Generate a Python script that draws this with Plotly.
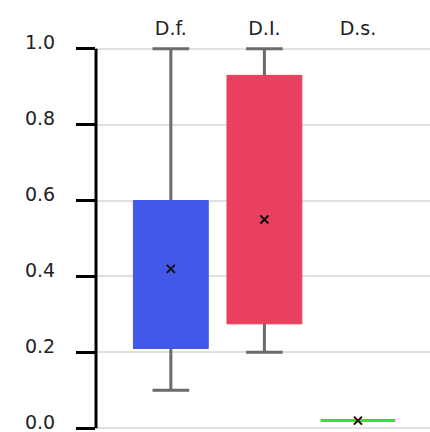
import plotly.graph_objects as go

categories = ["D.f.", "D.I.", "D.s."]
mins = [0.10, 0.20, 0.02]
q1s = [0.21, 0.275, 0.02]
q3s = [0.60, 0.93, 0.02]
maxs = [1.00, 1.00, 0.02]
means = [0.42, 0.55, 0.02]
colors = ["#4158e8", "#e8405e", "#2de82d"]
y_ticks = [0.0, 0.2, 0.4, 0.6, 0.8, 1.0]

FONT = "DejaVu Sans"
fig = go.Figure()

# whiskers (gray), drawn under the coloured boxes
mids = [(a + b) / 2 for a, b in zip(q1s, q3s)]
fig.add_trace(go.Box(
    x=categories[:2], q1=mids[:2], median=mids[:2], q3=mids[:2],
    lowerfence=mins[:2], upperfence=maxs[:2],
    line=dict(color="#6b6b6b", width=3), fillcolor="rgba(0,0,0,0)",
    width=0.8, whiskerwidth=0.49, boxpoints=False, hoverinfo="skip",
    showlegend=False,
))

# coloured boxes (q1..q3)
for c, a, b, col in zip(categories, q1s, q3s, colors):
    fig.add_trace(go.Box(
        x=[c], q1=[a], median=[a], q3=[b], lowerfence=[a], upperfence=[b],
        line=dict(color=col, width=3 if a == b else 1), fillcolor=col,
        width=0.8, whiskerwidth=0, boxpoints=False, showlegend=False,
    ))

# means
fig.add_trace(go.Scatter(
    x=categories, y=means, mode="markers",
    marker=dict(symbol="x-thin", size=8, line=dict(color="#111111", width=2)),
    showlegend=False,
))

fig.update_layout(
    width=430, height=432,
    margin=dict(l=96, r=0, t=45, b=0),
    plot_bgcolor="white", paper_bgcolor="white",
    boxmode="overlay",
    font=dict(family=FONT, size=19, color="#222222"),
)
fig.update_xaxes(
    type="category", side="top", range=[-0.8, 2.77], automargin=False,
    showline=False, showgrid=False, ticks="", ticklabelstandoff=5,
    tickfont=dict(family=FONT, size=19, color="#222222"),
)
fig.update_yaxes(
    range=[-0.01, 1.01], tickvals=y_ticks, ticktext=[f"{v:.1f}" for v in y_ticks],
    automargin=False, ticklabeloverflow="allow",
    showline=False,
    ticks="outside", ticklen=19, tickwidth=3, tickcolor="black",
    showgrid=True, gridcolor="#e0e0e0", gridwidth=2, zeroline=False,
    ticklabelstandoff=17, ticklabelshift=-6,
    tickfont=dict(family=FONT, size=19, color="#222222"),
)
# vertical axis line spanning exactly the tick range
fig.add_shape(type="line", xref="paper", yref="y", x0=0, x1=0,
              y0=min(y_ticks), y1=max(y_ticks),
              line=dict(color="black", width=3), layer="above")

fig.write_html(
    "out.html",
    config={"displayModeBar": False},
    post_script="document.body.style.margin='0';document.body.style.overflow='hidden';",
)
